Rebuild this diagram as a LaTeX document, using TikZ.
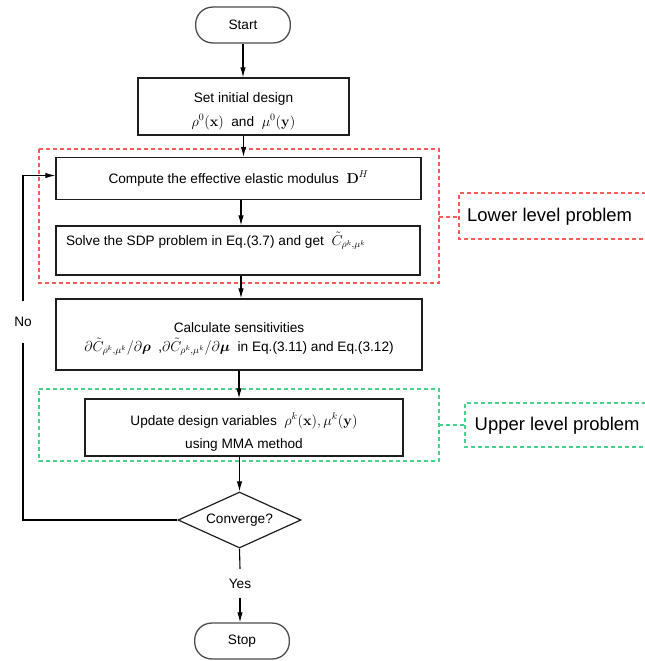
\documentclass[tikz,border=0pt]{standalone}
\usepackage{amsmath}
\usepackage[no-math]{fontspec}
\setmainfont{Liberation Sans}
\usetikzlibrary{arrows.meta,shapes.geometric,calc}

\definecolor{lowred}{RGB}{250,90,90}
\definecolor{upgreen}{RGB}{70,212,140}
\definecolor{boxline}{RGB}{30,30,30}

\tikzset{
  base/.style={font=\fontsize{13.7}{16}\selectfont},
  procbox/.style={draw=boxline, line width=1.3pt, rectangle, inner sep=0pt},
  term/.style={draw=black!70, line width=1.3pt, rectangle, rounded corners=17pt,
    minimum width=95pt, minimum height=36pt},
  decide/.style={draw=boxline, line width=1.2pt, diamond, aspect=2.2,
    minimum width=123pt, minimum height=56pt, inner sep=0pt},
  flow/.style={line width=1.1pt, -{Latex[length=10pt,width=5.5pt]}},
  plain/.style={line width=1.1pt},
  lowdash/.style={color=lowred, line width=1.8bp, dash pattern=on 4bp off 3bp},
  updash/.style={color=upgreen, line width=1.8bp, dash pattern=on 4bp off 3bp},
  tagtext/.style={font=\fontsize{18.5}{22}\selectfont, anchor=west, inner sep=0pt},
}

\begin{document}
\begin{tikzpicture}[x=1bp, y=-1bp, base]
\useasboundingbox (0,0) rectangle (645,661);
\clip (0,0) rectangle (645,661);
\fill[white] (0,0) rectangle (645,661);

\coordinate (ax) at (241,0);

% dashed groupings of the two sub-problems, with their side tags
\draw[lowdash] (39,149) -- (439,149) -- (439,283) -- (39,283) -- cycle;
\coordinate (lowreg) at (439,217);
\draw[lowdash] (660,193) -- (459,193) -- (459,239) -- (660,239);
\coordinate (lowtag) at (459,217);
\node[tagtext] (lowtxt) at (467,217) {Lower level problem};
\draw[lowdash] (lowreg) -- (lowtag);

\draw[updash] (39,389) -- (439,389) -- (439,461) -- (39,461) -- cycle;
\coordinate (upreg) at (439,425);
\draw[updash] (660,403) -- (465,403) -- (465,447) -- (660,447);
\coordinate (uptag) at (465,425);
\node[tagtext] (uptxt) at (474.5,426) {Upper level problem};
\draw[updash] (upreg) -- (uptag);

% flow chart steps
\node[term] (start) at (243,25) {Start};

\node[procbox, minimum width=211bp, minimum height=57bp] (set) at (243.5,106.5) {};
\node[align=center] (settxt) at (243.5,111)
  {Set initial design\\[8pt] $\rho^0(\mathbf{x})$\ \ and\ \ $\mu^0(\mathbf{y})$};

\node[procbox, minimum width=365bp, minimum height=42bp] (comp) at (238.5,178.5)
  {Compute the effective elastic modulus\ \ $\mathbf{D}^H$};

\node[procbox, minimum width=364bp, minimum height=49bp] (solve) at (238,250.5) {};
\node[anchor=west] (solvetxt) at (62.5,241)
  {Solve the SDP problem in Eq.(3.7) and get\ \ $\tilde{C}_{\rho^k,\mu^k}$};

\node[procbox, minimum width=366bp, minimum height=71bp] (calc) at (239,334.5) {};
\node[align=center] (calctxt) at (239,339)
  {Calculate sensitivities\\[3pt]
   $\partial\tilde{C}_{\rho^k,\mu^k}/\partial\boldsymbol{\rho}$\ \ ,$\partial\tilde{C}_{\rho^k,\mu^k}/\partial\boldsymbol{\mu}$\ \ in Eq.(3.11) and Eq.(3.12)};

\node[procbox, minimum width=318bp, minimum height=57bp] (upd) at (244,427.5) {};
\node[align=center] (updtxt) at (244,432)
  {Update design variables\ \ $\rho^k(\mathbf{x}), \mu^k(\mathbf{y})$\\[7pt] using MMA method};

\node[decide, minimum width=123bp, minimum height=56bp] (conv) at (239.5,520) {Converge?};
\node[minimum height=29bp, inner sep=0pt] (yes) at (240,583.5) {Yes};
\node[term] (stop) at (242,641) {Stop};
\node[minimum height=42bp, inner sep=0pt] (no) at (23,322) {No};

% connectors
\draw[flow] (start.south) -- (start.south |- set.north);
\draw[flow] (set.south) -- (set.south |- comp.north);
\draw[flow] (comp.south -| ax) -- (solve.north -| ax);
\draw[flow] (solve.south -| ax) -- (calc.north -| ax);
\draw[flow] (calc.south) -- (calc.south |- upd.north);
\draw[flow] (upd.south -| conv.north) -- (conv.north);
\draw[plain] (conv.south) -- (yes.north);
\draw[flow] (yes.south) -- (yes.south |- stop.north);
\draw[plain] (conv.west) -| (no.south);
\draw[flow] (no.north) |- ([yshift=3pt]comp.west);
\end{tikzpicture}
\end{document}
